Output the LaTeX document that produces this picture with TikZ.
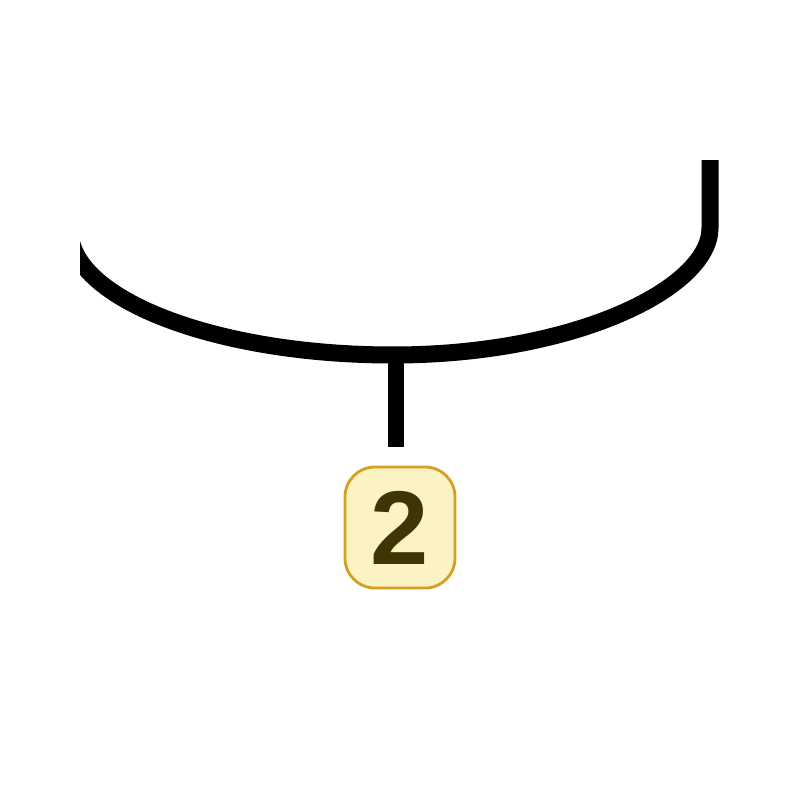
\documentclass[tikz,border=0pt]{standalone}
\usepackage{fontspec}
\setmainfont{Liberation Sans}
\definecolor{boxfill}{RGB}{252,243,196}
\definecolor{boxline}{RGB}{212,160,32}
\definecolor{numtext}{RGB}{62,54,2}
\begin{document}
\begin{tikzpicture}[x=0.01cm,y=-0.01cm,
  bowl/.style={line width=0.17cm,black,line join=round},
  stem/.style={line width=0.165cm,black},
  badge/.style={draw=boxline,line width=0.8pt,fill=boxfill,rounded corners=0.3cm,
    minimum width=1.1cm,minimum height=1.21cm,inner sep=0pt,
    text=numtext,font=\fontsize{29.8pt}{30pt}\selectfont\bfseries}]
\useasboundingbox (0,0) rectangle (800,800);
\begin{scope}
  \clip (80,160) rectangle (800,800);
  \draw[bowl] (710,150) -- (710,228) .. controls (710,288) and (575,355) .. (393,355)
     .. controls (216,355) and (70,299) .. (70,230);
\end{scope}
\coordinate (stemtop) at (396,350);
\node[badge] (n2) at (400,527.5) {2};
\draw[stem,shorten >=0.19cm] (stemtop) -- (stemtop |- n2.north);
\end{tikzpicture}
\end{document}
